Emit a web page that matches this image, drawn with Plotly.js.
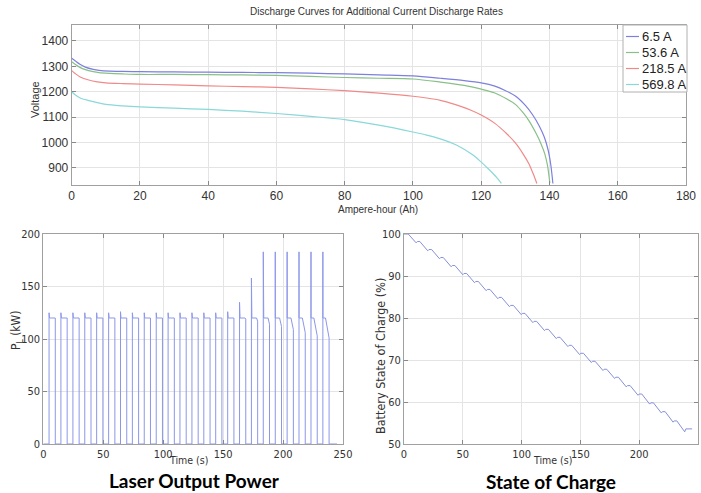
<!DOCTYPE html>
<html>
<head>
<meta charset="utf-8">
<script src="https://cdn.plot.ly/plotly-3.0.1.min.js"></script>
<style>html,body{margin:0;padding:0;background:#fff;}#chart{width:701px;height:493px;}</style>
</head>
<body>
<div id="chart"></div>
<script>
// ---------- Top: discharge curves ----------
const seriesNames = ['6.5 A', '53.6 A', '218.5 A', '569.8 A'];
const ah_6_5   = [0, 1, 2.4, 4, 6.3, 8, 11.2, 15, 20, 30, 40, 50, 60, 70, 80, 90, 100, 108, 115, 120, 124, 127, 130, 133, 135, 137, 138.5, 139.6, 140.4, 141];
const v_6_5    = [1332, 1322, 1308, 1297, 1288, 1284, 1281, 1280, 1279, 1278, 1277, 1276, 1275, 1273, 1270, 1266, 1262, 1253, 1244, 1235, 1222, 1205, 1183, 1145, 1110, 1065, 1020, 970, 910, 838];
const ah_53_6  = [0, 1, 2.4, 4, 6.3, 8, 11.2, 15, 20, 30, 40, 50, 60, 70, 80, 90, 100, 108, 115, 120, 124, 127.4, 130, 132.2, 134, 136.1, 137.5, 138.6, 139.4, 140.1];
const v_53_6   = [1318, 1308, 1296, 1287, 1279, 1275, 1272, 1270, 1268, 1268, 1267, 1266, 1264, 1260, 1256, 1253, 1250, 1238, 1225, 1210, 1195, 1172, 1150, 1118, 1085, 1035, 995, 956, 910, 840];
const ah_218_5 = [0, 1, 2.5, 5, 7.5, 10, 15, 20, 30, 40, 50, 60, 70, 80, 90, 100, 104, 108, 111, 114, 117, 120, 124, 127.4, 130, 132.2, 134, 135.2, 136.3];
const v_218_5  = [1283, 1272, 1258, 1246, 1239, 1235, 1232, 1230, 1227, 1223, 1220, 1217, 1211, 1204, 1194, 1182, 1175, 1166, 1155, 1142, 1127, 1108, 1075, 1035, 998, 956, 915, 877, 838];
const ah_569_8 = [0, 1, 2.5, 5, 7.5, 10, 15, 20, 30, 40, 50, 60, 70, 80, 90, 100, 104, 108, 113, 117.6, 120, 122.5, 124.5, 125.9];
const v_569_8  = [1200, 1188, 1175, 1165, 1157, 1150, 1144, 1140, 1135, 1130, 1123, 1114, 1103, 1090, 1068, 1041, 1029, 1014, 988, 950, 922, 890, 862, 838];
const seriesColors = ['#7d80dc', '#88c088', '#f08a8a', '#8ad8d8'];

// ---------- Bottom-left: laser output power pulses ----------
const pulseOn   = [4.8, 14.7, 24.7, 34.6, 44.5, 54.5, 64.4, 74.3, 84.2, 94.2, 104.1, 114.0, 124.0, 133.9, 143.8, 153.8, 163.7, 173.6, 183.5, 193.5, 203.4, 213.3, 223.3, 233.2];
const pulseOff  = [10.0, 19.9, 29.9, 39.8, 49.7, 59.7, 69.6, 79.5, 89.4, 99.4, 109.3, 119.2, 129.2, 139.1, 149.0, 159.0, 168.9, 178.8, 188.7, 198.7, 208.6, 218.5, 228.5, 238.4];
const peakPower = [125, 125, 125, 125, 125, 125, 126, 125, 125, 125, 125, 125, 125, 125, 125, 126, 135, 158, 183, 183, 183, 183, 183, 183];
const innerPeak = [null, null, null, null, null, null, null, null, null, null, null, null, null, null, null, null, null, null, null, 158, 156, 155, 157, 155];
const plateauPower = [120, 120, 120, 120, 120, 120, 120, 120, 120, 120, 120, 120, 120, 120, 120, 120, 120, 120, 120, 120, 120, 120, 120, 120];
const droopStart = [null, null, null, null, null, null, null, null, null, null, null, null, null, null, null, null, 168.2, 177.9, 187.5, 197.1, 206.6, 216.1, 225.7, 235.4];
const endPower  = [120, 120, 120, 120, 120, 120, 120, 120, 120, 120, 120, 120, 120, 120, 120, 120, 119, 117, 114, 112, 109, 106, 103, 101];

// ---------- Bottom-right: battery state of charge ----------
const socStart = 100;
const socLow  = [97.9, 96.0, 94.1, 92.2, 90.3, 88.4, 86.5, 84.6, 82.7, 80.8, 78.9, 77.0, 75.1, 73.2, 71.3, 69.4, 67.5, 65.6, 63.6, 61.6, 59.5, 57.4, 55.2, 52.9];
const socHigh = [98.2, 96.3, 94.4, 92.5, 90.6, 88.7, 86.8, 84.9, 83.0, 81.1, 79.2, 77.3, 75.4, 73.5, 71.6, 69.7, 67.8, 65.9, 63.9, 61.9, 59.8, 57.7, 55.5, 53.6];
const timeEnd = 245;

// ---------- build traces ----------
const curveX = [ah_6_5, ah_53_6, ah_218_5, ah_569_8];
const curveY = [v_6_5, v_53_6, v_218_5, v_569_8];
const traces = [];
for (let i = 0; i < seriesNames.length; i++) {
  traces.push({x: curveX[i], y: curveY[i], type: 'scatter', mode: 'lines', name: seriesNames[i], showlegend: false,
    line: {color: seriesColors[i], width: 1.2, shape: 'spline', smoothing: 0.8}, xaxis: 'x', yaxis: 'y', hoverinfo: 'none'});
}

const pX = [0], pY = [0];
for (let k = 0; k < pulseOn.length; k++) {
  const on = pulseOn[k], off = pulseOff[k];
  pX.push(on, on); pY.push(0, peakPower[k]);
  if (innerPeak[k] !== null) { pX.push(on, on + 0.08, on + 0.16); pY.push(plateauPower[k], innerPeak[k], plateauPower[k]); }
  pX.push(on + 0.4); pY.push(plateauPower[k]);
  if (droopStart[k] !== null) { pX.push(droopStart[k]); pY.push(plateauPower[k]); }
  pX.push(off, off); pY.push(endPower[k], 0);
}
pX.push(timeEnd); pY.push(0);
traces.push({x: pX, y: pY, type: 'scatter', mode: 'lines', showlegend: false,
  line: {color: '#8c97e8', width: 1}, xaxis: 'x2', yaxis: 'y2', hoverinfo: 'none'});

const sX = [0], sY = [socStart];
let prev = socStart;
for (let k = 0; k < pulseOn.length; k++) {
  sX.push(pulseOn[k] - 1.2, pulseOff[k] + 0.3, pulseOff[k] + 1.3);
  sY.push(prev, socLow[k], socHigh[k]);
  prev = socHigh[k];
}
sX.push(timeEnd); sY.push(prev);
traces.push({x: sX, y: sY, type: 'scatter', mode: 'lines', showlegend: false,
  line: {color: '#8690d8', width: 1}, xaxis: 'x3', yaxis: 'y3', hoverinfo: 'none'});

// ---------- layout ----------
const W = 701, H = 493;
const fx = v => v / W, fy = v => 1 - v / H;
const gridC = '#e4e4e4', lineC = '#a0a0a0';
const narrowFam = 'Liberation Sans Narrow, DejaVu Sans Condensed, Arial Narrow, Liberation Sans, sans-serif';
const tickFontTop = {family: 'Liberation Sans, Arial, sans-serif', size: 12, color: '#333'};
const tickFontBot = {family: narrowFam, size: 11, color: '#333'};
function ax(domain, range, dtick, font, extra) {
  return Object.assign({domain: domain, range: range, dtick: dtick, tick0: 0, showgrid: true, gridcolor: gridC, gridwidth: 1,
    zeroline: false, showline: true, linecolor: lineC, linewidth: 1, mirror: 'ticks', ticks: 'inside', ticklen: 4,
    tickcolor: '#888', tickfont: font, fixedrange: true}, extra || {});
}
const capFont = {family: 'Lato, Open Sans, sans-serif', size: 19, color: '#000', weight: 'bold'};
const smallFont = {family: 'Liberation Sans, Arial, sans-serif', size: 10, color: '#333'};
const narrowFont = {family: narrowFam, size: 10.5, color: '#333'};
const ann = (text, x, y, font, angle) => ({text: text, x: fx(x), y: fy(y), xref: 'paper', yref: 'paper', showarrow: false,
  xanchor: 'center', yanchor: 'middle', font: font, textangle: angle || 0});

// legend box (drawn with shapes + text, MATLAB-style compact legend)
const shapes = [{type: 'rect', xref: 'paper', yref: 'paper', x0: fx(623), x1: fx(687), y0: fy(92), y1: fy(25),
  line: {color: '#b0b0b0', width: 1}, fillcolor: '#fff', layer: 'above'}];
const annotations = [
  ann('Discharge Curves for Additional Current Discharge Rates', 376, 12, smallFont),
  ann('Ampere-hour (Ah)', 378, 209, smallFont),
  ann('Voltage', 35, 100, {family: 'Liberation Sans, Arial, sans-serif', size: 11, color: '#333'}, -90),
  ann('P<sub>L</sub> (kW)', 17, 330, {family: narrowFam, size: 12, color: '#333'}, -90),
  ann('Time (s)', 188, 460, narrowFont),
  ann('Laser Output Power', 194, 480, capFont),
  ann('Battery State of Charge (%)', 380, 356, {family: narrowFam, size: 12.5, color: '#333'}, -90),
  ann('Time (s)', 552, 460, narrowFont),
  ann('State of Charge', 551, 481, capFont)
];
for (let i = 0; i < seriesNames.length; i++) {
  const yy = 36.5 + 16 * i;
  shapes.push({type: 'line', xref: 'paper', yref: 'paper', x0: fx(626), x1: fx(639), y0: fy(yy), y1: fy(yy),
    line: {color: seriesColors[i], width: 1.2}, layer: 'above'});
  annotations.push({text: seriesNames[i], x: fx(640), y: fy(yy), xref: 'paper', yref: 'paper', showarrow: false,
    xanchor: 'left', yanchor: 'middle', font: {family: 'Liberation Sans, Arial, sans-serif', size: 13, color: '#222'}});
}

const layout = {
  width: W, height: H, margin: {l: 0, r: 0, t: 0, b: 0}, paper_bgcolor: '#fff', plot_bgcolor: '#fff',
  showlegend: false,
  xaxis:  ax([fx(71.7), fx(686)], [0, 180], 20, tickFontTop, {anchor: 'y'}),
  yaxis:  ax([fy(185), fy(25)], [832, 1463], 100, tickFontTop, {anchor: 'x'}),
  xaxis2: ax([fx(43.3), fx(343)], [0, 250], 50, tickFontBot, {anchor: 'y2'}),
  yaxis2: ax([fy(444), fy(234)], [0, 200], 50, tickFontBot, {anchor: 'x2'}),
  xaxis3: ax([fx(404), fx(698)], [0, 250], 50, tickFontBot, {anchor: 'y3'}),
  yaxis3: ax([fy(444), fy(234)], [50, 100], 10, tickFontBot, {anchor: 'x3'}),
  shapes: shapes,
  annotations: annotations
};
Plotly.newPlot('chart', traces, layout, {staticPlot: true, displayModeBar: false});
</script>
</body>
</html>
